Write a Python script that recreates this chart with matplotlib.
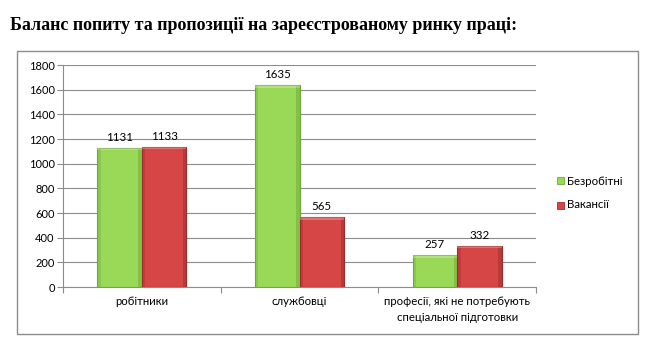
import matplotlib
matplotlib.use("Agg")
import matplotlib.pyplot as plt
from matplotlib.patches import Rectangle
import numpy as np

categories = ["робітники", "службовці", "професії, які не потребують\nспеціальної підготовки"]
unemployed = [1131, 1635, 257]
vacancies = [1133, 565, 332]
series_names = ["Безробітні", "Вакансії"]
yticks = [0, 200, 400, 600, 800, 1000, 1200, 1400, 1600, 1800]

green = "#9AD957"
green_dark = "#6FA83A"
red = "#D64646"
red_dark = "#9E2C2C"

W, H = 652, 343
fig = plt.figure(figsize=(W / 100, H / 100), dpi=100)
fig.patch.set_facecolor("white")

# outer chart frame
fig.patches.append(Rectangle((17 / W, 1 - 334 / H), (638 - 17) / W, (334 - 51) / H,
                             transform=fig.transFigure, fill=False,
                             edgecolor="#8C8C8C", linewidth=1.0))

fig.text(10 / W, 1 - 25 / H, "Баланс попиту та пропозиції на зареєстрованому ринку праці:",
         family="Liberation Serif", fontweight="bold", fontsize=13, va="center", ha="left")

ax = fig.add_axes([63 / W, 1 - 287 / H, (536 - 63) / W, (287 - 65) / H])
ax.set_xlim(0, 3)
ax.set_ylim(0, 1800)
ax.set_yticks(yticks)
ax.yaxis.grid(True, color="#8C8C8C", linewidth=0.8)
ax.set_axisbelow(True)
for s in ["top", "right"]:
    ax.spines[s].set_visible(False)
ax.spines["left"].set_color("#8C8C8C")
ax.spines["bottom"].set_color("#8C8C8C")
ax.tick_params(axis="y", length=4, color="#8C8C8C", labelsize=8, pad=2)
ax.set_xticks([0, 1, 2, 3])
ax.set_xticklabels([])
ax.tick_params(axis="x", length=4, color="#8C8C8C")

font = "Lato"
for lbl in ax.get_yticklabels():
    lbl.set_family(font)

x = np.arange(len(categories)) + 0.5
bw = 0.283


def shaded_bars(xs, vals, color, dark):
    bars = ax.bar(xs, vals, width=bw, color=color, edgecolor=dark, linewidth=0.8, zorder=3)
    for b in bars:
        bx, by, bwid, bh = b.get_x(), b.get_y(), b.get_width(), b.get_height()
        # darker side edges and top highlight for a bevelled look
        ax.add_patch(Rectangle((bx, by), bwid * 0.08, bh, color=dark, alpha=0.35, lw=0, zorder=4))
        ax.add_patch(Rectangle((bx + bwid * 0.92, by), bwid * 0.08, bh, color=dark, alpha=0.5, lw=0, zorder=4))
        ax.add_patch(Rectangle((bx, by + bh - 18), bwid, 18, color="white", alpha=0.25, lw=0, zorder=4))
    return bars


b1 = shaded_bars(x - bw / 2, unemployed, green, green_dark)
b2 = shaded_bars(x + bw / 2, vacancies, red, red_dark)

for xs, vals in [(x - bw / 2, unemployed), (x + bw / 2, vacancies)]:
    for xi, v in zip(xs, vals):
        ax.text(xi, v + 40, str(v), ha="center", va="bottom", fontsize=8.3, family=font)

for xi, c in zip(x, categories):
    ax.text(xi, -75, c, ha="center", va="top", fontsize=8.2, family=font, linespacing=1.55)

# legend
for i, (name, col, dk) in enumerate(zip(series_names, [green, red], [green_dark, red_dark])):
    yy = 181 + i * 24
    fig.patches.append(Rectangle((557 / W, 1 - (yy + 3.5) / H), 7 / W, 7 / H,
                                 transform=fig.transFigure, facecolor=col, edgecolor=dk, lw=0.6))
    fig.text(567 / W, 1 - yy / H, name, fontsize=8.3, family=font, va="center", ha="left")

fig.savefig("out.png", dpi=100)
